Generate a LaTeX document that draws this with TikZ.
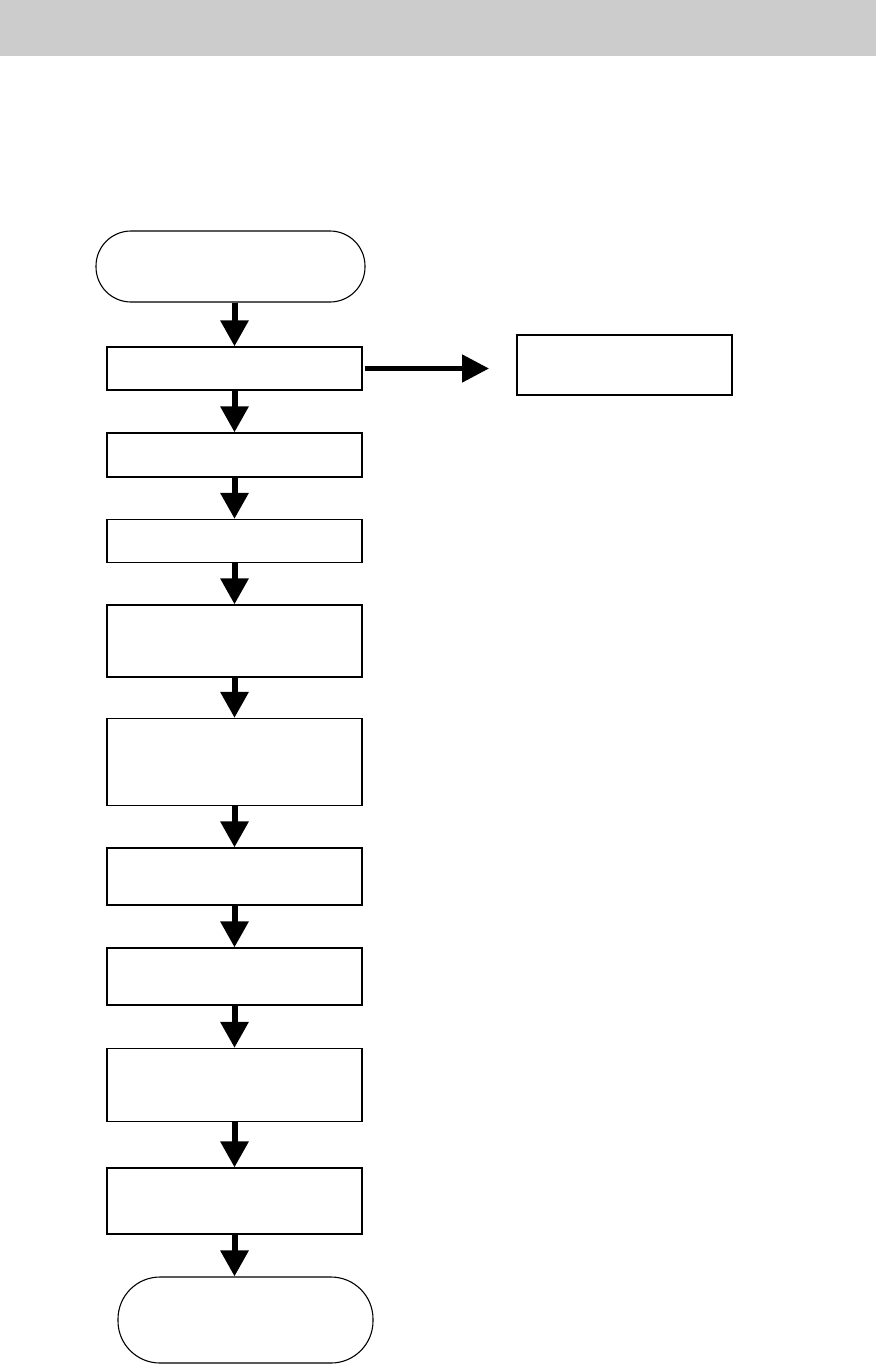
\documentclass[tikz,border=0pt]{standalone}
\usetikzlibrary{arrows.meta}
\begin{document}
\begin{tikzpicture}[x=1pt,y=-1pt,
  stepbox/.style={draw=black,line width=1.2pt,fill=white,inner sep=0pt,minimum width=255pt},
  sidebox/.style={draw=black,line width=2pt,fill=white,inner sep=0pt,minimum width=215pt,minimum height=60pt},
  termbox/.style={draw=black,line width=1.1pt,fill=white,inner sep=0pt},
  arr/.style={line width=6pt,-{Triangle[length=26pt,width=27pt]}}
]
\useasboundingbox (0,0) rectangle (876,1365);
\fill[fill={rgb,255:red,204;green,204;blue,204}] (0,0) rectangle (876,56);

\node[termbox,minimum width=269pt,minimum height=71pt,rounded corners=35pt] (start) at (230.5,266.5) {};
\node[stepbox,minimum height=43pt] (b1) at (234.5,368.5) {};
\node[sidebox] (side) at (624.5,365) {};
\node[stepbox,minimum height=44pt] (b2) at (234.5,455) {};
\node[stepbox,minimum height=43pt] (b3) at (234.5,541) {};
\node[stepbox,minimum height=72pt] (b4) at (234.5,641) {};
\node[stepbox,minimum height=87pt] (b5) at (234.5,762) {};
\node[stepbox,minimum height=57pt] (b6) at (234.5,876.5) {};
\node[stepbox,minimum height=57pt] (b7) at (234.5,976.5) {};
\node[stepbox,minimum height=73pt] (b8) at (234.5,1085) {};
\node[stepbox,minimum height=66pt] (b9) at (234.5,1201) {};
\node[termbox,minimum width=255pt,minimum height=86pt,rounded corners=42pt] (end) at (245.5,1320) {};

\draw[arr] (b1.north |- start.south) -- (b1.north);
\draw[arr] (b1.south) -- (b2.north);
\draw[arr] (b2.south) -- (b3.north);
\draw[arr] (b3.south) -- (b4.north);
\draw[arr] (b4.south) -- (b5.north);
\draw[arr] (b5.south) -- (b6.north);
\draw[arr] (b6.south) -- (b7.north);
\draw[arr] (b7.south) -- (b8.north);
\draw[arr] (b8.south) -- (b9.north);
\draw[arr] (b9.south) -- (b9.south |- end.north);
\draw[line width=5pt,-{Triangle[length=27pt,width=27pt]},shorten <=2pt,shorten >=27pt] (b1.east) -- (b1.east -| side.west);
\end{tikzpicture}
\end{document}
